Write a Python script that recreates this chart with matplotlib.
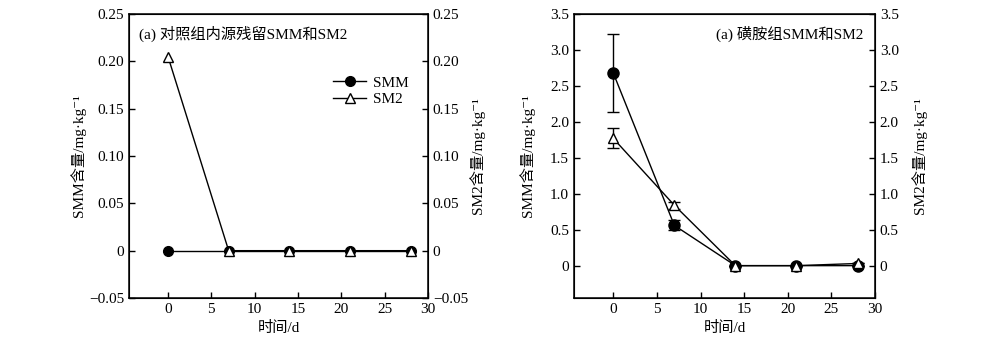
import numpy as np
import matplotlib
matplotlib.use("Agg")
from matplotlib import pyplot as plt
from matplotlib.ticker import FuncFormatter

plt.rcParams['font.family'] = ['Liberation Serif', 'Noto Sans CJK SC', 'DejaVu Serif']
plt.rcParams['axes.unicode_minus'] = True

days = [0, 7, 14, 21, 28]

# control group: endogenous residue
ctrl_smm = [0, 0, 0, 0, 0]
ctrl_sm2 = [0.205, 0, 0, 0, 0]

# sulfonamide group
sulf_smm = [2.68, 0.56, 0, 0, 0]
sulf_smm_err = [0.54, 0.07, 0, 0, 0]
sulf_sm2 = [1.77, 0.84, 0, 0, 0.03]
sulf_sm2_err = [0.14, 0.05, 0, 0, 0]

titles = ['(a) 对照组内源残留SMM和SM2', '(a) 磺胺组SMM和SM2']
unit = '/mg\u00b7kg\u207b\u00b9'


def fmt_left(v, pos):
    if abs(v) < 1e-9:
        return '0'
    return ('%.2f' % v).replace('-', '\u2212')


def fmt_right(v, pos):
    if abs(v) < 1e-9:
        return '0'
    return '%.1f' % v


def style(ax, ax2, pad_l, pad_r):
    for a in (ax, ax2):
        a.tick_params(direction='in', length=4, width=1, labelsize=11)
    for s in ax.spines.values():
        s.set_linewidth(1.1)
    ax.set_xlim(-4.5, 30)
    ax.set_xticks([0, 5, 10, 15, 20, 25, 30])
    ax.set_xlabel('时间/d', fontsize=11, labelpad=4)
    ax.set_ylabel('SMM含量' + unit, fontsize=11, labelpad=pad_l)
    ax2.set_ylabel('SM2含量' + unit, fontsize=11, labelpad=pad_r)


fig = plt.figure(figsize=(9.93, 3.43), dpi=100)
ax1 = fig.add_axes([129 / 993, 45 / 343, 299 / 993, 284 / 343])
ax3 = fig.add_axes([574 / 993, 45 / 343, 301 / 993, 284 / 343])

# left panel
ax1.plot(days, ctrl_smm, '-', color='black', lw=1, marker='o', ms=7,
         mfc='black', mec='black', label='SMM', zorder=3)
ax1.plot(days, ctrl_sm2, '-', color='black', lw=1, marker='^', ms=7,
         mfc='white', mec='black', label='SM2', zorder=4)
ax1.set_ylim(-0.05, 0.25)
ax1.set_yticks(np.arange(-0.05, 0.26, 0.05))
ax1.yaxis.set_major_formatter(FuncFormatter(fmt_left))
ax1.text(0.035, 0.93, titles[0], transform=ax1.transAxes, fontsize=11,
         ha='left', va='center')
ax1.legend(loc='upper right', bbox_to_anchor=(0.98, 0.83), frameon=False,
           fontsize=11, handlelength=2.2, handletextpad=0.4, labelspacing=0.2)
ax2 = ax1.twinx()
ax2.set_ylim(ax1.get_ylim())
ax2.set_yticks(ax1.get_yticks())
ax2.yaxis.set_major_formatter(FuncFormatter(fmt_left))
style(ax1, ax2, 2, 1)

# right panel
ax3.errorbar(days, sulf_smm, yerr=sulf_smm_err, fmt='-o', color='black', lw=1,
             ms=8, mfc='black', mec='black', capsize=4, elinewidth=1, zorder=3)
ax3.errorbar(days, sulf_sm2, yerr=sulf_sm2_err, fmt='-^', color='black', lw=1,
             ms=7, mfc='white', mec='black', capsize=4, elinewidth=1, zorder=4)
ax3.set_ylim(-0.45, 3.5)
ax3.set_yticks(np.arange(0, 3.51, 0.5))
ax3.yaxis.set_major_formatter(FuncFormatter(fmt_right))
ax3.text(0.96, 0.93, titles[1], transform=ax3.transAxes, fontsize=11,
         ha='right', va='center')
ax4 = ax3.twinx()
ax4.set_ylim(ax3.get_ylim())
ax4.set_yticks(ax3.get_yticks())
ax4.yaxis.set_major_formatter(FuncFormatter(fmt_right))
style(ax3, ax4, 11, 9)

fig.savefig('out.png', dpi=100)
